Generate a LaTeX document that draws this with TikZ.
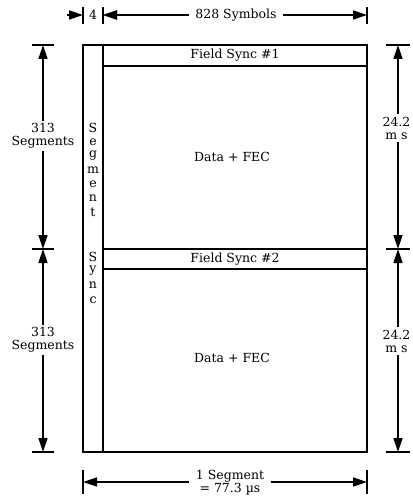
\documentclass[tikz,border=0pt]{standalone}
\usepackage{fontspec}
\setmainfont{DejaVu Serif}
\usetikzlibrary{arrows.meta}

\begin{document}
\begin{tikzpicture}[x=1pt,y=-1pt,line width=1.6pt,
  dim/.style={-{Triangle[length=14pt,width=9pt]},line width=1.5pt},
  lbl/.style={font=\fontsize{12.5}{16}\selectfont,align=center,inner sep=2pt},
  letter/.style={font=\fontsize{12.5}{13}\selectfont,inner sep=0pt}]
\useasboundingbox (0,0) rectangle (412,502);

% frame
\draw (83,45) rectangle (367,452);
\draw (103,45) -- (103,452);
\draw (103,66) -- (367,66);
\draw (103,249) -- (367,249);
\draw (103,269) -- (367,269);
\node[lbl] (fsa) at (235,55.5) {Field Sync \#1};
\node[lbl] (fsb) at (235,259) {Field Sync \#2};
\node[lbl] (fec1) at (232,157) {Data + FEC};
\node[lbl] (fec2) at (232,358) {Data + FEC};

% segment sync column
\foreach \ch [count=\i] in {S,e,g,m,e,n,t}
  \node[letter] (ss\i) at (93,114+14*\i) {\ch};
\foreach \ch [count=\i] in {S,y,n,c}
  \node[letter] (sy\i) at (93,242+14.5*\i) {\ch};

% top dimensions
\coordinate (ta) at (83,15);
\coordinate (tb) at (103,15);
\coordinate (tc) at (367,15);
\coordinate (ta0) at (67,15);
\coordinate (tb0) at (119,15);
\draw (83,7) -- (83,24);
\draw (103,7) -- (103,24);
\draw (367,7) -- (367,24);
\node[lbl] (four) at (93,15) {4};
\draw[dim] (ta0) -- (ta);
\draw[dim] (tb0) -- (tb);
\node[lbl,inner sep=6pt] (sym) at (236,15) {828 Symbols};
\draw[dim] (sym) -- (tb);
\draw[dim] (sym) -- (tc);

% left dimensions
\coordinate (la) at (43,45);
\coordinate (lb) at (43,249);
\coordinate (lc) at (43,452);
\draw (32,45) -- (54,45);
\draw (32,249) -- (54,249);
\draw (32,452) -- (54,452);
\node[lbl] (seg1) at (43,136) {313\\[-3pt]Segments};
\node[lbl] (seg2) at (43,340) {313\\[-3pt]Segments};
\draw[dim] (seg1) -- (la);
\draw[dim] (seg1) -- (lb);
\draw[dim] (seg2) -- (lb);
\draw[dim] (seg2) -- (lc);

% right dimensions
\coordinate (ra) at (398,45);
\coordinate (rb) at (398,249);
\coordinate (rc) at (398,452);
\draw (386,45) -- (410,45);
\draw (386,249) -- (410,249);
\draw (386,452) -- (410,452);
\node[lbl] (ms1) at (396.5,128) {24.2\\[-3pt]m s};
\node[lbl] (ms2) at (396.5,341) {24.2\\[-3pt]m s};
\draw[dim] (ms1.north -| ra) -- (ra);
\draw[dim] (ms1.south -| ra) -- (rb);
\draw[dim] (ms2.north -| rb) -- (rb);
\draw[dim] (ms2.south -| rb) -- (rc);

% bottom dimension
\coordinate (ba) at (83,482);
\coordinate (bb) at (367,482);
\draw (83,470) -- (83,494);
\draw (367,470) -- (367,494);
\node[lbl,inner sep=6pt] (segw) at (230,483) {1 Segment\\[-3pt]= 77.3 µs};
\draw[dim] (segw.west |- ba) -- (ba);
\draw[dim] (segw.east |- bb) -- (bb);
\end{tikzpicture}
\end{document}
